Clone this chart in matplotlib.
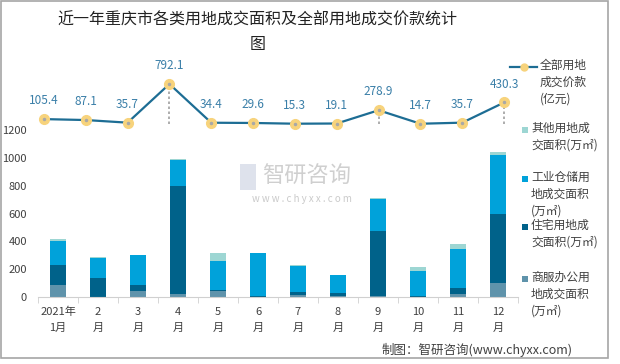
import numpy as np
import matplotlib.pyplot as plt
from matplotlib.lines import Line2D
from matplotlib.patches import Rectangle

plt.rcParams['font.family'] = ['Noto Sans CJK SC', 'DejaVu Sans']

months = ['2021年\n1月', '2\n月', '3\n月', '4\n月', '5\n月', '6\n月',
          '7\n月', '8\n月', '9\n月', '10\n月', '11\n月', '12\n月']

# 万㎡
shangfu = [85, 2, 42, 23, 45, 2, 12, 10, 5, 2, 23, 99]
zhuzhai = [144, 136, 43, 772, 8, 8, 25, 22, 468, 3, 40, 495]
gongye = [172, 141, 214, 189, 205, 308, 187, 125, 231, 181, 279, 431]
qita = [15, 12, 2, 10, 57, 2, 3, 3, 5, 33, 38, 20]
# 亿元
total_price = [105.4, 87.1, 35.7, 792.1, 34.4, 29.6, 15.3, 19.1, 278.9, 14.7, 35.7, 430.3]

c_shangfu = '#5f93ab'
c_zhuzhai = '#00628a'
c_gongye = '#00a2da'
c_qita = '#9dd6d3'
c_line = '#1d6d94'
c_marker = '#f7d37c'
c_text = '#404040'

W, H = 620, 364
fig = plt.figure(figsize=(W / 100, H / 100), dpi=100)


def fx(px):
    return px / W


def fy(py):
    return 1 - py / H


# bar axes
ax = fig.add_axes([fx(38), fy(297), fx(518 - 38), fy(60) - fy(297)])
x = np.arange(len(months))
bw = 0.4
b1 = np.array(shangfu)
b2 = b1 + np.array(zhuzhai)
b3 = b2 + np.array(gongye)
ax.bar(x, shangfu, bw, color=c_shangfu)
ax.bar(x, zhuzhai, bw, bottom=b1, color=c_zhuzhai)
ax.bar(x, gongye, bw, bottom=b2, color=c_gongye)
ax.bar(x, qita, bw, bottom=b3, color=c_qita)
ax.set_xlim(-0.5, 11.5)
ax.set_ylim(0, 1705)
ax.set_yticks(range(0, 1201, 200))
ax.tick_params(axis='y', length=0, labelsize=8, labelcolor=c_text, pad=8)
ax.set_xticks(x)
ax.set_xticklabels(months, fontsize=8, color=c_text, linespacing=1.75)
ax.tick_params(axis='x', length=0, pad=7)
ax.set_xticks(np.arange(-0.5, 12, 1), minor=True)
ax.tick_params(axis='x', which='minor', length=4, color='#d0d0d0')
for s in ['top', 'right', 'left']:
    ax.spines[s].set_visible(False)
ax.spines['bottom'].set_color('#d0d0d0')
ax.patch.set_alpha(0)

# line axes (slightly wider category spacing)
lx = fig.add_axes([fx(23), fy(297), fx(525 - 23), fy(60) - fy(297)])
lx.set_xlim(-0.5, 11.5)
lx.set_ylim(-3376, 1262)
lx.axis('off')
lx.patch.set_alpha(0)
lx.vlines(x, 0, total_price, colors='#a0a0a0', linestyles=(0, (1.5, 1.5)), linewidth=1.2)
lx.plot(x, total_price, color=c_line, linewidth=1.6, marker='o', markersize=7,
        markerfacecolor=c_marker, markeredgecolor=c_marker, zorder=3)
lx.plot(x, total_price, linestyle='none', marker='o', markersize=1.5,
        color='#a8a8a8', zorder=4)
for xi, v in zip(x, total_price):
    lx.annotate(f'{v:.1f}', (xi, v), xytext=(0, 8.5), textcoords='offset points',
                ha='center', va='bottom', fontsize=8.5, color='#3a7fa8')

# title
fig.text(0.415, fy(20), '近一年重庆市各类用地成交面积及全部用地成交价款统计',
         ha='center', va='center', fontsize=11.5, color='#222222')
fig.text(0.415, fy(45), '图', ha='center', va='center', fontsize=11.5, color='#222222')

# watermark
fig.text(fx(262), fy(176), '智研咨询', ha='left', va='center', fontsize=16,
         color='#c4c4c4', alpha=0.8)
fig.text(fx(252), fy(199), 'w w w . c h y x x . c o m', ha='left', va='center',
         fontsize=7, color='#bdbdbd', alpha=0.8)
fig.patches.append(Rectangle((fx(240), fy(190)), fx(16), fy(164) - fy(190),
                             transform=fig.transFigure, facecolor='#d6dbe8',
                             edgecolor='none', alpha=0.8))

# legend, placed by hand
fig.lines.append(Line2D([fx(510), fx(537)], [fy(67), fy(67)], transform=fig.transFigure,
                        color=c_line, linewidth=1.6))
fig.lines.append(Line2D([fx(523.5)], [fy(67)], transform=fig.transFigure,
                        marker='o', markersize=5, color=c_marker, linestyle='none'))
fig.text(fx(540), fy(59), '全部用地\n成交价款\n(亿元)', ha='left', va='top',
         fontsize=8.5, color=c_text, linespacing=1.4)
entries = [
    (130, c_qita, '其他用地成\n交面积(万㎡)'),
    (179, c_gongye, '工业仓储用\n地成交面积\n(万㎡)'),
    (227, c_zhuzhai, '住宅用地成\n交面积(万㎡)'),
    (279, c_shangfu, '商服办公用\n地成交面积\n(万㎡)'),
]
for py, col, lab in entries:
    fig.patches.append(Rectangle((fx(521.5), fy(py + 3)), fx(6), fy(py - 3) - fy(py + 3),
                                 transform=fig.transFigure, facecolor=col,
                                 edgecolor='none'))
    fig.text(fx(531), fy(py - 8), lab, ha='left', va='top', fontsize=8.5,
             color=c_text, linespacing=1.4)

# footer
fig.text(fx(573), fy(350), '制图：智研咨询(www.chyxx.com)', ha='right', va='center',
         fontsize=9, color=c_text)

# outer border
fig.patches.append(Rectangle((fx(1), fy(358)), fx(607), fy(1) - fy(358),
                             transform=fig.transFigure, facecolor='none',
                             edgecolor='#a6a6a6', linewidth=1.2))

fig.savefig('out.png', dpi=100)
